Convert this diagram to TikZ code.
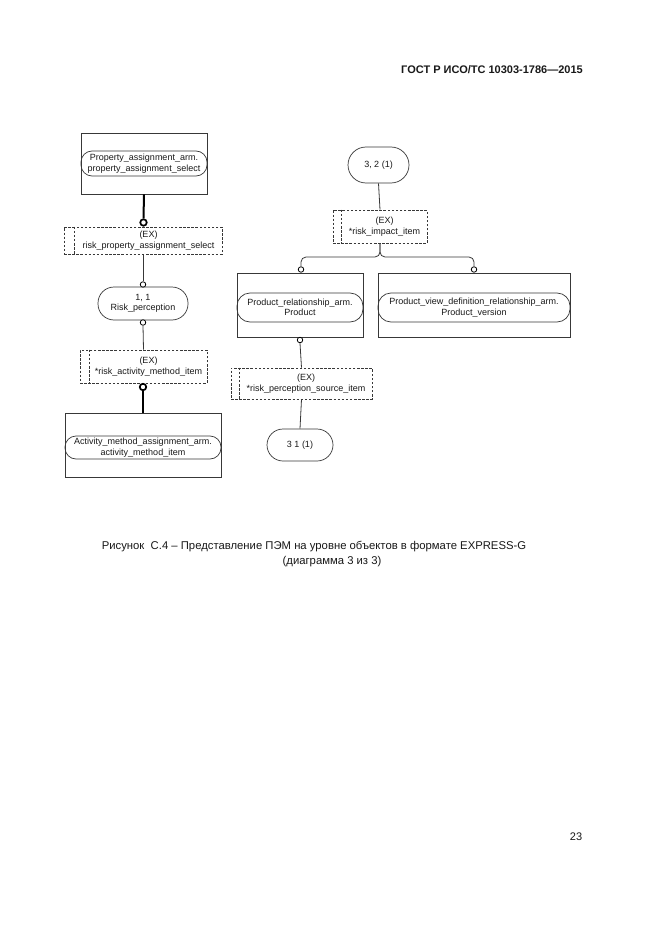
\documentclass[tikz,border=0pt]{standalone}
\usepackage{fontspec}
\setmainfont{Liberation Sans}
\newcommand{\dfs}{\fontsize{9}{10.4}\selectfont}
\newcommand{\exsh}[1]{\hspace*{#1}}
\begin{document}
\begin{tikzpicture}[x=1pt,y=-1pt]
\definecolor{ln}{gray}{0.22}
\definecolor{tx}{gray}{0.1}
\tikzset{
 ent/.style={draw=ln, line width=0.9pt, rectangle, inner sep=0pt},
 ovl/.style={draw=ln, line width=0.7pt, rectangle, rounded corners=#1, inner sep=0pt, align=center, font=\dfs, text=tx},
 exb/.style={draw=ln, dash pattern=on 2.5pt off 1.6pt, line width=0.7pt, rectangle, inner sep=0pt, align=center, font=\dfs, text=tx},
 exline/.style={draw=ln, dash pattern=on 2.5pt off 1.6pt, line width=0.7pt},
 ring/.style={circle, draw=black, fill=white, inner sep=0pt, minimum size=5.5pt, line width=0.8pt},
 bigring/.style={circle, draw=black, fill=white, inner sep=0pt, minimum size=6.5pt, line width=1.7pt},
 conn/.style={draw=ln, line width=0.8pt},
 heavy/.style={draw=black, line width=2pt},
 txt/.style={inner sep=0pt, text=tx}
}
\useasboundingbox (0,0) rectangle (661,936);
\fill[white] (0,0) rectangle (661,936);

% header
\node[txt, anchor=east, font=\fontsize{11}{13}\selectfont\bfseries] (hdr) at (583,70) {ГОСТ Р ИСО/ТС 10303-1786—2015};

% left column
\node[ent, minimum width=126pt, minimum height=61pt] (pbox) at (144,163.5) {};
\node[ovl=11pt, minimum width=126pt, minimum height=25pt] (pov) at (144,163.5) {Property\_assignment\_arm.\\property\_assignment\_select};
\node[bigring] (r1) at (143.5,222.5) {};
\node[exb, minimum width=158pt, minimum height=27pt] (ex1) at (143,240.5) {\exsh{11pt}(EX)\\\exsh{11pt}risk\_property\_assignment\_select};
\draw[exline] ([xshift=11pt]ex1.north west) -- ([xshift=11pt]ex1.south west);
\draw[heavy] (pbox.south) -- (r1.north);

\node[ring] (r2) at (143,284.5) {};
\node[ovl=16pt, minimum width=90pt, minimum height=33pt] (risk) at (143,303.5) {1, 1\\Risk\_perception};
\draw[conn] (ex1.south) -- (r2.north);

\node[ring] (r3) at (143,322.5) {};
\node[exb, minimum width=127pt, minimum height=33pt] (ex2) at (143.5,366.5) {\exsh{10pt}(EX)\\\exsh{10pt}*risk\_activity\_method\_item};
\draw[exline] ([xshift=10pt]ex2.north west) -- ([xshift=10pt]ex2.south west);
\draw[conn] (r3.south) -- (ex2.north);

\node[ent, minimum width=156pt, minimum height=64pt] (abox) at (143,445) {};
\node[ovl=11pt, minimum width=156pt, minimum height=23pt] (aov) at (143,447.5) {Activity\_method\_assignment\_arm.\\activity\_method\_item};
\node[bigring] (r4) at (143,387) {};
\draw[heavy] (r4.south) -- (abox.north);

% right column
\node[ovl=18pt, minimum width=61pt, minimum height=36pt] (o32) at (378.5,165) {3, 2 (1)};
\node[exb, minimum width=94pt, minimum height=33pt] (ex3) at (380,226.5) {\exsh{9pt}(EX)\\\exsh{9pt}*risk\_impact\_item};
\draw[exline] ([xshift=9pt]ex3.north west) -- ([xshift=9pt]ex3.south west);
\draw[conn] (o32.south) -- (ex3.north);

\node[ent, minimum width=126pt, minimum height=64pt] (prbox) at (300,305) {};
\node[ovl=13pt, minimum width=126pt, minimum height=29pt] (prov) at (300,307.5) {Product\_relationship\_arm.\\Product};
\node[ent, minimum width=192pt, minimum height=64pt] (pvbox) at (474,305) {};
\node[ovl=13pt, minimum width=192pt, minimum height=29pt] (pvov) at (474,307.5) {Product\_view\_definition\_relationship\_arm.\\Product\_version};

\node[ring] (c1) at (301,269.5) {};
\node[ring] (c2) at (474,269.5) {};
\coordinate (jn) at (380,257);
\draw[conn, rounded corners=5pt] (ex3.south) -- (jn) -| (c1.north);
\draw[conn, rounded corners=5pt] (ex3.south) -- (jn) -| (c2.north);

\node[ring] (r5) at (300,340) {};
\node[exb, minimum width=141pt, minimum height=31pt] (ex4) at (301.5,383.5) {\exsh{9pt}(EX)\\\exsh{9pt}*risk\_perception\_source\_item};
\draw[exline] ([xshift=9pt]ex4.north west) -- ([xshift=9pt]ex4.south west);
\draw[conn] (r5.south) -- (ex4.north);

\node[ovl=16pt, minimum width=66pt, minimum height=32pt] (o31) at (300,445) {3 1 (1)};
\draw[conn] (ex4.south) -- (o31.north);

% caption
\node[txt, font=\fontsize{11.3}{13}\selectfont] (cap1) at (314,547) {Рисунок\ \ С.4 – Представление ПЭМ на уровне объектов в формате EXPRESS-G};
\node[txt, font=\fontsize{11.3}{13}\selectfont] (cap2) at (332,562) {(диаграмма 3 из 3)};

% page number
\node[txt, font=\fontsize{11}{13}\selectfont] (pg) at (576,837) {23};
\end{tikzpicture}
\end{document}
